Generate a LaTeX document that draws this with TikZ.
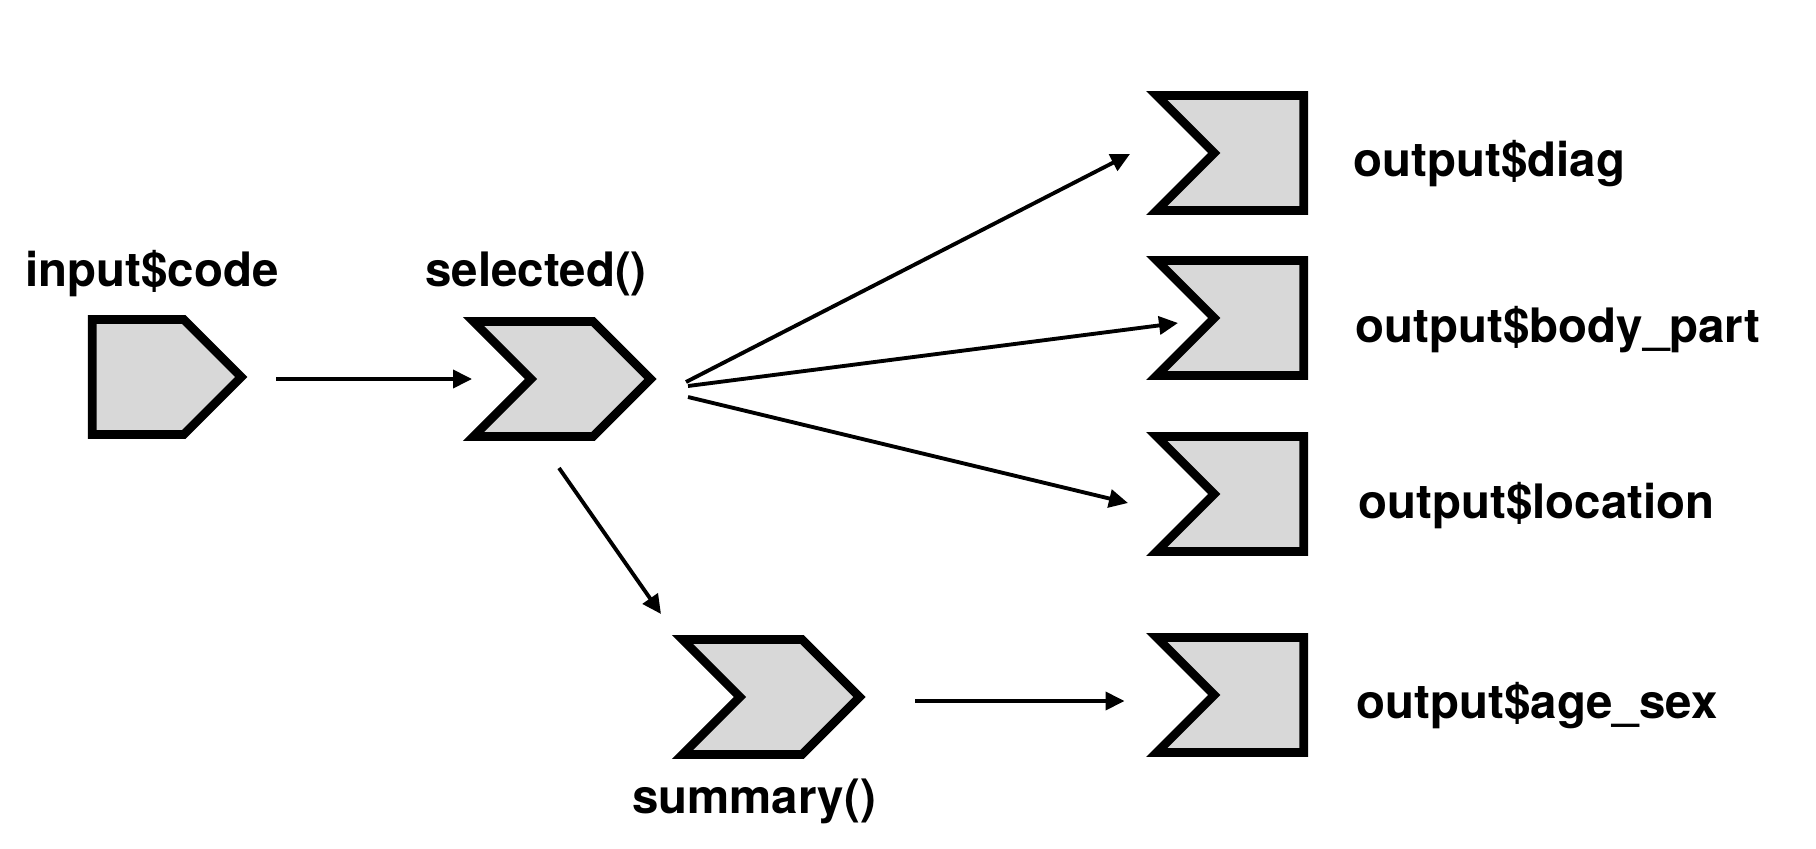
\documentclass[tikz,border=0pt]{standalone}
\usepackage{fontspec}
\setmainfont{TeX Gyre Heros}
\usepackage{tikz}
\usetikzlibrary{shapes.symbols, arrows.meta, positioning, calc}
\definecolor{shapegray}{RGB}{216,216,216}

\begin{document}
\begin{tikzpicture}[
    chev/.style={signal, draw, line width=2.5pt, fill=shapegray, signal pointer angle=90, minimum height=1.15cm, inner sep=0pt},
    inshape/.style={chev, signal to=east, minimum width=1.49cm},
    midshape/.style={chev, signal from=west, signal to=east, minimum width=1.77cm},
    outshape/.style={chev, signal from=west, signal to=nowhere, minimum width=1.47cm},
    lbl/.style={font=\fontsize{13.5}{16}\selectfont\bfseries, inner sep=0pt},
    arrow/.style={line width=1.1pt, -{Triangle[length=0.19cm, width=0.18cm]}}]

    \useasboundingbox (0,0) rectangle (18.16,8.48);

    % shapes
    \node[inshape] (input) at (1.38,4.71) {};
    \node[midshape] (selected) at (5.62,4.69) {};
    \node[midshape] (summary) at (7.71,1.51) {};
    \node[outshape] (diag) at (12.59,6.95) {};
    \node[outshape] (body) at (12.59,5.30) {};
    \node[outshape] (location) at (12.59,3.54) {};
    \node[outshape] (agesex) at (12.59,1.53) {};

    % labels
    \node[lbl, anchor=base] (inputlbl) at ([shift={(0.14,0.90)}]input.center) {input\$code};
    \node[lbl, anchor=base] (selectedlbl) at ([shift={(-0.26,0.92)}]selected.center) {selected()};
    \node[lbl, anchor=base] (summarylbl) at ([shift={(-0.17,-1.16)}]summary.center) {summary()};
    \node[lbl, anchor=base west] (diaglbl) at ([shift={(0.94,-0.24)}]diag.center) {output\$diag};
    \node[lbl, anchor=base west] (bodylbl) at ([shift={(0.96,-0.24)}]body.center) {output\$body\_part};
    \node[lbl, anchor=base west] (locationlbl) at ([shift={(0.99,-0.24)}]location.center) {output\$location};
    \node[lbl, anchor=base west] (agesexlbl) at ([shift={(0.97,-0.23)}]agesex.center) {output\$age\_sex};

    % connectors
    \draw[arrow] ([shift={(1.38,-0.02)}]input.center) -- ([xshift=-0.90cm]selected.center);
    \draw[arrow] ([shift={(1.24,-0.03)}]selected.center) -- ([shift={(-1.29,-0.01)}]diag.center);
    \draw[arrow] ([shift={(1.26,-0.07)}]selected.center) -- ([shift={(-0.81,-0.05)}]body.center);
    \draw[arrow] ([shift={(1.26,-0.18)}]selected.center) -- ([shift={(-1.31,-0.09)}]location.center);
    \draw[arrow] ([shift={(-0.03,-0.89)}]selected.center) -- ([shift={(-1.10,0.83)}]summary.center);
    \draw[arrow] ([shift={(1.44,-0.04)}]summary.center) -- ([shift={(-1.345,-0.06)}]agesex.center);
\end{tikzpicture}
\end{document}
